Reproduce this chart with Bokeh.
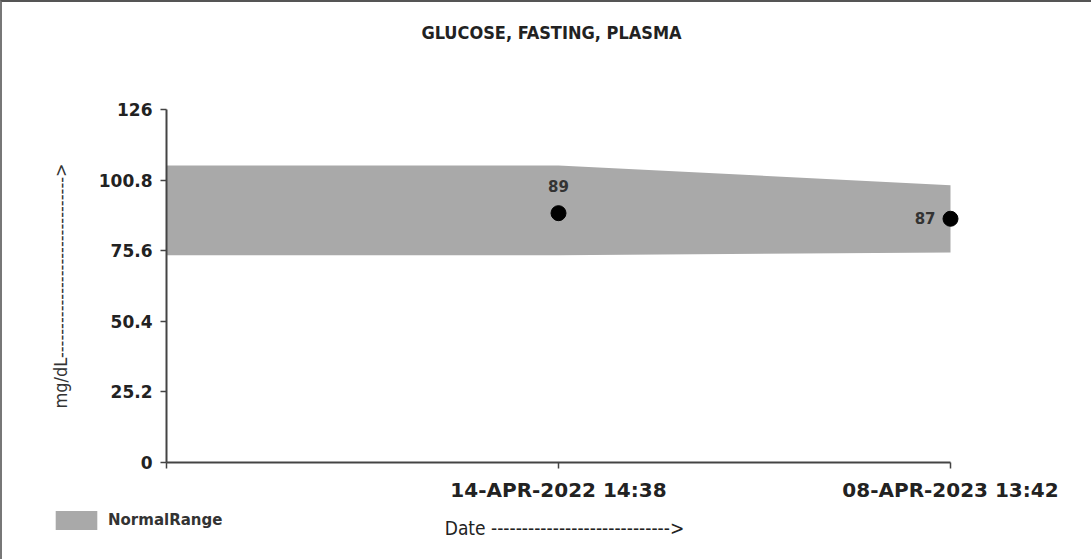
from bokeh.plotting import figure
from bokeh.models import (Range1d, FixedTicker, Legend, LegendItem, ColumnDataSource,
                          Label, GridBox, Column)
from bokeh.embed import file_html
from bokeh.resources import INLINE
from bokeh.core.properties import value

# ---- data ----
title_text = "GLUCOSE, FASTING, PLASMA"
dates = ["14-APR-2022 14:38", "08-APR-2023 13:42"]
date_pos = [1, 2]
glucose = [89, 87]
band_x = [0, 1, 2]
band_lower = [74, 74, 75]
band_upper = [106, 106, 99]
y_ticks = [0, 25.2, 50.4, 75.6, 100.8, 126]
y_tick_labels = ["0", "25.2", "50.4", "75.6", "100.8", "126"]
legend_label = "NormalRange"

W, H = 1091, 559
left, right, top, bottom = 164, 960, 107, 460
band_color = "#A9A9A9"

p = figure(width=W, height=H, output_backend="svg", toolbar_location=None,
           x_range=Range1d(0, 2 * (right - left) / (948 - left)),
           y_range=Range1d(0, 126),
           min_border_left=left, min_border_right=W - right,
           min_border_top=top, min_border_bottom=H - bottom)
p.styles = {"border-top": "2px solid #555", "border-left": "2px solid #777"}
p.background_fill_color = "white"
p.border_fill_color = "white"
p.outline_line_color = None
p.xgrid.visible = False
p.ygrid.visible = False

band = p.varea(x=band_x, y1=band_lower, y2=band_upper, fill_color=band_color)

src = ColumnDataSource(dict(x=date_pos, y=glucose))
p.scatter("x", "y", source=src, size=15, color="black")
lab_src1 = ColumnDataSource(dict(x=date_pos[:1], y=glucose[:1], t=[str(glucose[0])]))
lab_src2 = ColumnDataSource(dict(x=date_pos[1:], y=glucose[1:], t=[str(glucose[1])]))
p.text("x", "y", text="t", source=lab_src1, text_align="center", text_baseline="middle",
       y_offset=-27, text_font=value("DejaVu Sans"), text_font_style="bold",
       text_font_size="15px", text_color="#333333")
p.text("x", "y", text="t", source=lab_src2, text_align="right", text_baseline="middle",
       x_offset=-15, y_offset=-1, text_font=value("DejaVu Sans"), text_font_style="bold",
       text_font_size="15px", text_color="#333333")

# axes
xa = p.xaxis[0]
xa.bounds = (0, 2)
xa.ticker = FixedTicker(ticks=[0] + date_pos)
xa.major_label_overrides = {0: "", **{k: v for k, v in zip(date_pos, dates)}}
xa.minor_tick_line_color = None
xa.major_tick_in = 0
xa.major_tick_out = 6
xa.axis_line_color = "#444444"
xa.axis_line_width = 2
xa.major_tick_line_color = "#444444"
xa.major_tick_line_width = 1.5
xa.major_label_text_font = "DejaVu Sans"
xa.major_label_text_font_style = "bold"
xa.major_label_text_font_size = "20px"
xa.major_label_text_color = "#222222"
xa.major_label_standoff = 9
xa.axis_label = "Date ----------------------------->"
xa.axis_label_text_font = "DejaVu Sans Condensed"
xa.axis_label_text_font_style = "normal"
xa.axis_label_text_font_size = "19px"
xa.axis_label_text_color = "#222222"
xa.axis_label_standoff = 12

ya = p.yaxis[0]
ya.ticker = FixedTicker(ticks=y_ticks)
ya.major_label_overrides = {k: v for k, v in zip(y_ticks, y_tick_labels)}
ya.minor_tick_line_color = None
ya.major_tick_in = 0
ya.major_tick_out = 6
ya.axis_line_color = "#444444"
ya.axis_line_width = 2
ya.major_tick_line_color = "#444444"
ya.major_tick_line_width = 1.5
ya.major_label_text_font = "DejaVu Sans"
ya.major_label_text_font_style = "bold"
ya.major_label_text_font_size = "17px"
ya.major_label_text_color = "#222222"
ya.major_label_standoff = 8
ya.axis_label = "mg/dL------------------------------->"
ya.axis_label_text_font = "DejaVu Sans Condensed"
ya.axis_label_text_font_style = "normal"
ya.axis_label_text_font_size = "18px"
ya.axis_label_text_color = "#333333"
ya.axis_label_standoff = 25

# transparent overlay figure for title and legend (outside main frame);
# its ranges keep the band data out of view, so only the legend swatch shows
lp = figure(width=W, height=H, output_backend="svg", toolbar_location=None,
            x_range=Range1d(100, 101), y_range=Range1d(0, 1),
            x_axis_type=None, y_axis_type=None, title=None, min_border=0)
lp.outline_line_color = None
lp.background_fill_alpha = 0
lp.border_fill_alpha = 0
swatch = lp.varea(x=band_x, y1=band_lower, y2=band_upper, fill_color=band_color)

lp.add_layout(Label(x=551, y=H - 32, x_units="screen", y_units="screen",
                    text=title_text, text_align="center", text_baseline="middle",
                    text_font="DejaVu Sans Condensed", text_font_style="bold",
                    text_font_size="18px", text_color="#222222"))

legend = Legend(items=[LegendItem(label=legend_label, renderers=[swatch])],
                location=(50, H - 532), glyph_width=52, glyph_height=24,
                padding=0, margin=0, label_standoff=6, border_line_color=None,
                background_fill_alpha=0, label_text_font="DejaVu Sans",
                label_text_font_style="bold", label_text_font_size="15px",
                label_text_color="#333333")
lp.add_layout(legend, "center")

layout = GridBox(children=[(p, 0, 0), (Column(children=[lp]), 0, 0)])

open("out.html", "w").write(file_html(layout, INLINE))
